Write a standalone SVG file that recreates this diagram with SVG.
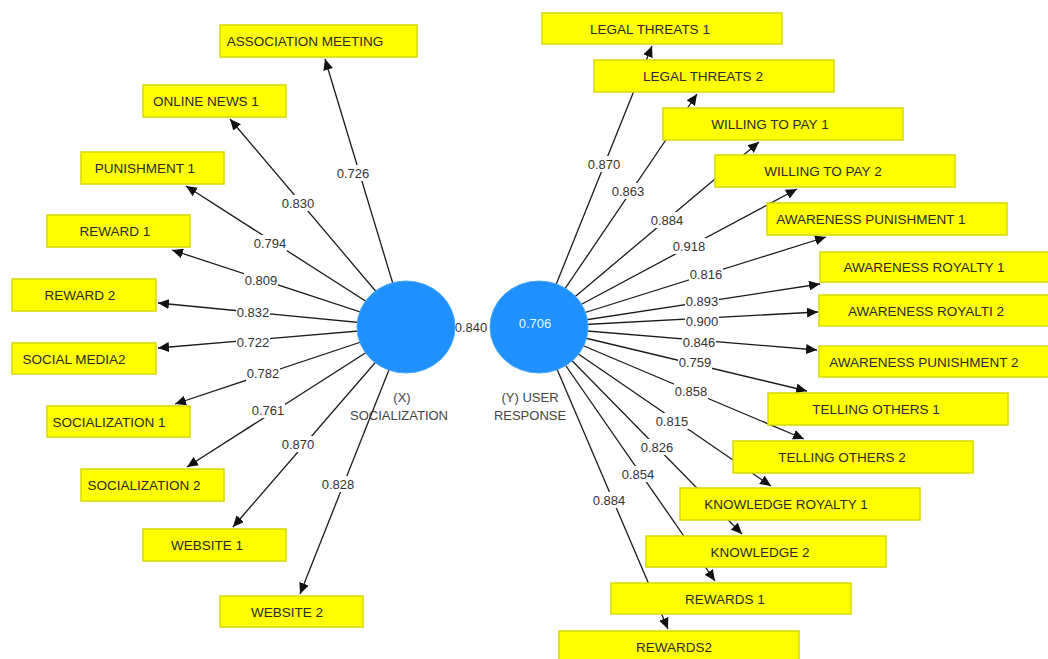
<svg xmlns="http://www.w3.org/2000/svg" width="1048" height="659" viewBox="0 0 1048 659">
<style>
.bx{fill:#FFFF00;stroke:#D8D800;stroke-width:1.5}
.bt{font-family:"Liberation Sans",Arial,sans-serif;font-size:13.5px;fill:#2a2a2a;text-anchor:middle;dominant-baseline:central}
.ln{stroke:#1a1a1a;stroke-width:1.3;fill:none;marker-end:url(#ah)}
.lb{fill:#fff}
.lt{font-family:"Liberation Sans",Arial,sans-serif;font-size:13px;fill:#333;text-anchor:middle;dominant-baseline:central}
.cv{fill:#1E90FF;stroke:#4aa8ff;stroke-width:1}
.nt{font-family:"Liberation Sans",Arial,sans-serif;font-size:13px;fill:#444;text-anchor:middle;dominant-baseline:central}
</style>
<defs>
<marker id="ah" markerUnits="userSpaceOnUse" markerWidth="11" markerHeight="10" refX="11" refY="5" orient="auto">
<path d="M0,0 L11,5 L0,10 z" fill="#111"/>
</marker>
</defs>
<rect width="1048" height="659" fill="#fff"/>
<g id="connectors">
<line class="ln" x1="406" y1="327" x2="325" y2="59"/>
<line class="ln" x1="406" y1="327" x2="230" y2="119"/>
<line class="ln" x1="406" y1="327" x2="186" y2="186"/>
<line class="ln" x1="406" y1="327" x2="172" y2="250"/>
<line class="ln" x1="406" y1="327" x2="158" y2="303"/>
<line class="ln" x1="406" y1="327" x2="158" y2="348"/>
<line class="ln" x1="406" y1="327" x2="175" y2="404"/>
<line class="ln" x1="406" y1="327" x2="187" y2="467"/>
<line class="ln" x1="406" y1="327" x2="233" y2="527"/>
<line class="ln" x1="406" y1="327" x2="300" y2="594"/>
<line class="ln" x1="539" y1="327" x2="652" y2="46"/>
<line class="ln" x1="539" y1="327" x2="697" y2="94"/>
<line class="ln" x1="539" y1="327" x2="759" y2="142"/>
<line class="ln" x1="539" y1="327" x2="797" y2="189"/>
<line class="ln" x1="539" y1="327" x2="826" y2="237"/>
<line class="ln" x1="539" y1="327" x2="820" y2="284"/>
<line class="ln" x1="539" y1="327" x2="818" y2="312"/>
<line class="ln" x1="539" y1="327" x2="817" y2="350"/>
<line class="ln" x1="539" y1="327" x2="807" y2="391"/>
<line class="ln" x1="539" y1="327" x2="804" y2="439"/>
<line class="ln" x1="539" y1="327" x2="771" y2="486"/>
<line class="ln" x1="539" y1="327" x2="742" y2="534"/>
<line class="ln" x1="539" y1="327" x2="715" y2="581"/>
<line class="ln" x1="539" y1="327" x2="668" y2="629"/>
<g id="labels">
<rect class="lb" x="336" y="165" width="34" height="16"/><text class="lt" x="353" y="173">0.726</text>
<rect class="lb" x="281" y="195" width="34" height="16"/><text class="lt" x="298" y="203">0.830</text>
<rect class="lb" x="253" y="235" width="34" height="16"/><text class="lt" x="270" y="243">0.794</text>
<rect class="lb" x="244" y="272" width="34" height="16"/><text class="lt" x="261" y="280">0.809</text>
<rect class="lb" x="236" y="304" width="34" height="16"/><text class="lt" x="253" y="312">0.832</text>
<rect class="lb" x="236" y="334" width="34" height="16"/><text class="lt" x="253" y="342">0.722</text>
<rect class="lb" x="246" y="365" width="34" height="16"/><text class="lt" x="263" y="373">0.782</text>
<rect class="lb" x="251" y="402" width="34" height="16"/><text class="lt" x="268" y="410">0.761</text>
<rect class="lb" x="281" y="436" width="34" height="16"/><text class="lt" x="298" y="444">0.870</text>
<rect class="lb" x="321" y="476" width="34" height="16"/><text class="lt" x="338" y="484">0.828</text>
<rect class="lb" x="587" y="156" width="34" height="16"/><text class="lt" x="604" y="164">0.870</text>
<rect class="lb" x="611" y="183" width="34" height="16"/><text class="lt" x="628" y="191">0.863</text>
<rect class="lb" x="650" y="212" width="34" height="16"/><text class="lt" x="667" y="220">0.884</text>
<rect class="lb" x="672" y="238" width="34" height="16"/><text class="lt" x="689" y="246">0.918</text>
<rect class="lb" x="689" y="266" width="34" height="16"/><text class="lt" x="706" y="274">0.816</text>
<rect class="lb" x="685" y="293" width="34" height="16"/><text class="lt" x="702" y="301">0.893</text>
<rect class="lb" x="685" y="313" width="34" height="16"/><text class="lt" x="702" y="321">0.900</text>
<rect class="lb" x="682" y="334" width="34" height="16"/><text class="lt" x="699" y="342">0.846</text>
<rect class="lb" x="678" y="354" width="34" height="16"/><text class="lt" x="695" y="362">0.759</text>
<rect class="lb" x="674" y="383" width="34" height="16"/><text class="lt" x="691" y="391">0.858</text>
<rect class="lb" x="655" y="413" width="34" height="16"/><text class="lt" x="672" y="421">0.815</text>
<rect class="lb" x="640" y="439" width="34" height="16"/><text class="lt" x="657" y="447">0.826</text>
<rect class="lb" x="621" y="466" width="34" height="16"/><text class="lt" x="638" y="474">0.854</text>
<rect class="lb" x="592" y="492" width="34" height="16"/><text class="lt" x="609" y="500">0.884</text>
<text class="lt" x="471" y="327">0.840</text>
</g>
</g>
<g id="node-x">
<ellipse class="cv" cx="406" cy="327" rx="49" ry="46"/>
<text class="nt" x="402" y="397">(X)</text>
<text class="nt" x="399" y="415">SOCIALIZATION</text>
</g>
<g id="node-y">
<ellipse class="cv" cx="539" cy="327" rx="49" ry="46"/>
<text class="lt" x="535" y="323" style="fill:#e8f4ff">0.706</text>
<text class="nt" x="530" y="397">(Y) USER</text>
<text class="nt" x="530" y="415">RESPONSE</text>
</g>
<g id="association-meeting"><rect class="bx" x="220" y="25" width="197" height="32"/><text class="bt" x="305" y="41">ASSOCIATION MEETING</text></g>
<g id="online-news-1"><rect class="bx" x="143" y="85" width="143" height="32"/><text class="bt" x="206" y="101">ONLINE NEWS 1</text></g>
<g id="punishment-1"><rect class="bx" x="81" y="152" width="143" height="32"/><text class="bt" x="145" y="168">PUNISHMENT 1</text></g>
<g id="reward-1"><rect class="bx" x="47" y="215" width="143" height="32"/><text class="bt" x="115" y="231">REWARD 1</text></g>
<g id="reward-2"><rect class="bx" x="12" y="279" width="144" height="32"/><text class="bt" x="80" y="295">REWARD 2</text></g>
<g id="social-media2"><rect class="bx" x="12" y="343" width="144" height="31"/><text class="bt" x="74" y="359">SOCIAL MEDIA2</text></g>
<g id="socialization-1"><rect class="bx" x="47" y="406" width="143" height="31"/><text class="bt" x="109" y="422">SOCIALIZATION 1</text></g>
<g id="socialization-2"><rect class="bx" x="81" y="469" width="143" height="32"/><text class="bt" x="144" y="485">SOCIALIZATION 2</text></g>
<g id="website-1"><rect class="bx" x="143" y="529" width="143" height="32"/><text class="bt" x="207" y="545">WEBSITE 1</text></g>
<g id="website-2"><rect class="bx" x="220" y="596" width="143" height="31"/><text class="bt" x="287" y="612">WEBSITE 2</text></g>
<g id="legal-threats-1"><rect class="bx" x="542" y="13" width="240" height="31"/><text class="bt" x="650" y="29">LEGAL THREATS 1</text></g>
<g id="legal-threats-2"><rect class="bx" x="594" y="60" width="240" height="32"/><text class="bt" x="703" y="76">LEGAL THREATS 2</text></g>
<g id="willing-to-pay-1"><rect class="bx" x="663" y="108" width="240" height="32"/><text class="bt" x="770" y="124">WILLING TO PAY 1</text></g>
<g id="willing-to-pay-2"><rect class="bx" x="715" y="155" width="240" height="32"/><text class="bt" x="823" y="171">WILLING TO PAY 2</text></g>
<g id="awareness-punishment-1"><rect class="bx" x="767" y="203" width="240" height="32"/><text class="bt" x="871" y="219">AWARENESS PUNISHMENT 1</text></g>
<g id="awareness-royalty-1"><rect class="bx" x="820" y="252" width="240" height="30"/><text class="bt" x="924" y="267">AWARENESS ROYALTY 1</text></g>
<g id="awareness-royalti-2"><rect class="bx" x="819" y="295" width="240" height="31"/><text class="bt" x="926" y="311">AWARENESS ROYALTI 2</text></g>
<g id="awareness-punishment-2"><rect class="bx" x="819" y="346" width="240" height="31"/><text class="bt" x="924" y="362">AWARENESS PUNISHMENT 2</text></g>
<g id="telling-others-1"><rect class="bx" x="768" y="393" width="240" height="32"/><text class="bt" x="876" y="409">TELLING OTHERS 1</text></g>
<g id="telling-others-2"><rect class="bx" x="733" y="441" width="240" height="32"/><text class="bt" x="842" y="457">TELLING OTHERS 2</text></g>
<g id="knowledge-royalty-1"><rect class="bx" x="680" y="488" width="240" height="32"/><text class="bt" x="786" y="504">KNOWLEDGE ROYALTY 1</text></g>
<g id="knowledge-2"><rect class="bx" x="646" y="536" width="240" height="31"/><text class="bt" x="760" y="552">KNOWLEDGE 2</text></g>
<g id="rewards-1"><rect class="bx" x="611" y="583" width="240" height="31"/><text class="bt" x="725" y="599">REWARDS 1</text></g>
<g id="rewards2"><rect class="bx" x="559" y="631" width="240" height="32"/><text class="bt" x="674" y="647">REWARDS2</text></g>
</svg>
